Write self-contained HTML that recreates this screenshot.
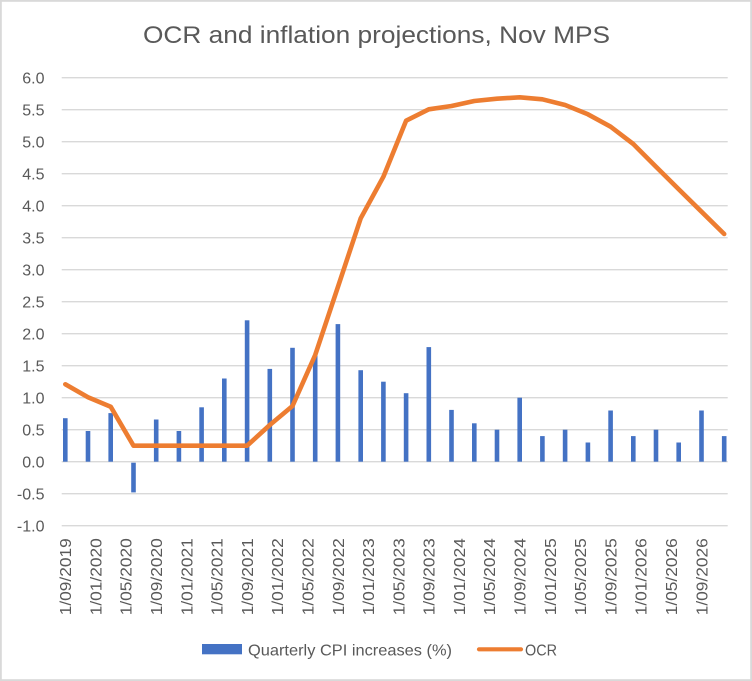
<!DOCTYPE html>
<html><head><meta charset="utf-8"><style>
html,body{margin:0;padding:0;background:#fff;}
svg{display:block;}
text{font-family:"Liberation Sans",Arial,sans-serif;fill:#595959;}
</style></head><body>
<svg width="752" height="681" viewBox="0 0 752 681" xmlns="http://www.w3.org/2000/svg">
<rect x="0" y="0" width="752" height="681" fill="#fff"/>
<rect x="0.9" y="0.9" width="750.2" height="679.2" fill="none" stroke="#D9D9D9" stroke-width="1.8"/>
<text x="376.5" y="43" font-size="24" text-anchor="middle" textLength="467" lengthAdjust="spacingAndGlyphs">OCR and inflation projections, Nov MPS</text>
<g stroke="#D9D9D9" stroke-width="1.4">
<line x1="61.7" x2="727.7" y1="77.7" y2="77.7"/>
<line x1="61.7" x2="727.7" y1="109.7" y2="109.7"/>
<line x1="61.7" x2="727.7" y1="141.7" y2="141.7"/>
<line x1="61.7" x2="727.7" y1="173.7" y2="173.7"/>
<line x1="61.7" x2="727.7" y1="205.7" y2="205.7"/>
<line x1="61.7" x2="727.7" y1="237.7" y2="237.7"/>
<line x1="61.7" x2="727.7" y1="269.7" y2="269.7"/>
<line x1="61.7" x2="727.7" y1="301.7" y2="301.7"/>
<line x1="61.7" x2="727.7" y1="333.7" y2="333.7"/>
<line x1="61.7" x2="727.7" y1="365.7" y2="365.7"/>
<line x1="61.7" x2="727.7" y1="397.7" y2="397.7"/>
<line x1="61.7" x2="727.7" y1="429.7" y2="429.7"/>
<line x1="61.7" x2="727.7" y1="461.7" y2="461.7"/>
<line x1="61.7" x2="727.7" y1="493.7" y2="493.7"/>
<line x1="61.7" x2="727.7" y1="525.7" y2="525.7"/>
</g>
<g font-size="16" text-anchor="end">
<text x="44.5" y="83.5">6.0</text>
<text x="44.5" y="115.5">5.5</text>
<text x="44.5" y="147.5">5.0</text>
<text x="44.5" y="179.5">4.5</text>
<text x="44.5" y="211.5">4.0</text>
<text x="44.5" y="243.5">3.5</text>
<text x="44.5" y="275.5">3.0</text>
<text x="44.5" y="307.5">2.5</text>
<text x="44.5" y="339.5">2.0</text>
<text x="44.5" y="371.5">1.5</text>
<text x="44.5" y="403.5">1.0</text>
<text x="44.5" y="435.5">0.5</text>
<text x="44.5" y="467.5">0.0</text>
<text x="44.5" y="499.5">-0.5</text>
<text x="44.5" y="531.5">-1.0</text>
</g>
<g fill="#4472C4">
<rect x="63.0" y="418.2" width="4.6" height="43.5"/>
<rect x="85.7" y="431.0" width="4.6" height="30.7"/>
<rect x="108.4" y="413.1" width="4.6" height="48.6"/>
<rect x="131.2" y="462.7" width="4.6" height="29.7"/>
<rect x="153.9" y="419.5" width="4.6" height="42.2"/>
<rect x="176.6" y="431.0" width="4.6" height="30.7"/>
<rect x="199.3" y="407.3" width="4.6" height="54.4"/>
<rect x="222.0" y="378.5" width="4.6" height="83.2"/>
<rect x="244.8" y="320.3" width="4.6" height="141.4"/>
<rect x="267.5" y="368.9" width="4.6" height="92.8"/>
<rect x="290.2" y="347.8" width="4.6" height="113.9"/>
<rect x="312.9" y="354.8" width="4.6" height="106.9"/>
<rect x="335.6" y="324.1" width="4.6" height="137.6"/>
<rect x="358.4" y="370.2" width="4.6" height="91.5"/>
<rect x="381.1" y="381.7" width="4.6" height="80.0"/>
<rect x="403.8" y="393.2" width="4.6" height="68.5"/>
<rect x="426.5" y="347.1" width="4.6" height="114.6"/>
<rect x="449.2" y="409.9" width="4.6" height="51.8"/>
<rect x="472.0" y="423.3" width="4.6" height="38.4"/>
<rect x="494.7" y="429.7" width="4.6" height="32.0"/>
<rect x="517.4" y="397.7" width="4.6" height="64.0"/>
<rect x="540.1" y="436.1" width="4.6" height="25.6"/>
<rect x="562.8" y="429.7" width="4.6" height="32.0"/>
<rect x="585.6" y="442.5" width="4.6" height="19.2"/>
<rect x="608.3" y="410.5" width="4.6" height="51.2"/>
<rect x="631.0" y="436.1" width="4.6" height="25.6"/>
<rect x="653.7" y="429.7" width="4.6" height="32.0"/>
<rect x="676.4" y="442.5" width="4.6" height="19.2"/>
<rect x="699.2" y="410.5" width="4.6" height="51.2"/>
<rect x="721.9" y="436.1" width="4.6" height="25.6"/>
</g>
<polyline fill="none" stroke="#ED7D31" stroke-width="4.6" stroke-linejoin="round" stroke-linecap="round"
points="65.3,384.3 88.0,397.3 110.7,406.7 133.5,445.7 156.2,445.7 178.9,445.7 201.6,445.7 224.3,445.7 247.1,445.7 269.8,425 292.5,406 315.2,355 337.9,287 360.7,218.3 383.4,176.7 406.1,120.7 428.8,109.3 451.5,106 474.3,101 497.0,98.7 519.7,97.3 542.4,99.3 565.1,105 587.9,114.3 610.6,126.7 633.3,144 656.0,166.7 678.7,189.3 701.5,211.7 724.2,234"/>
<g font-size="16" text-anchor="end">
<text transform="translate(71.1,538.3) rotate(-90)" textLength="77" lengthAdjust="spacingAndGlyphs">1/09/2019</text>
<text transform="translate(101.4,538.3) rotate(-90)" textLength="77" lengthAdjust="spacingAndGlyphs">1/01/2020</text>
<text transform="translate(131.7,538.3) rotate(-90)" textLength="77" lengthAdjust="spacingAndGlyphs">1/05/2020</text>
<text transform="translate(162.0,538.3) rotate(-90)" textLength="77" lengthAdjust="spacingAndGlyphs">1/09/2020</text>
<text transform="translate(192.3,538.3) rotate(-90)" textLength="77" lengthAdjust="spacingAndGlyphs">1/01/2021</text>
<text transform="translate(222.6,538.3) rotate(-90)" textLength="77" lengthAdjust="spacingAndGlyphs">1/05/2021</text>
<text transform="translate(252.9,538.3) rotate(-90)" textLength="77" lengthAdjust="spacingAndGlyphs">1/09/2021</text>
<text transform="translate(283.2,538.3) rotate(-90)" textLength="77" lengthAdjust="spacingAndGlyphs">1/01/2022</text>
<text transform="translate(313.5,538.3) rotate(-90)" textLength="77" lengthAdjust="spacingAndGlyphs">1/05/2022</text>
<text transform="translate(343.8,538.3) rotate(-90)" textLength="77" lengthAdjust="spacingAndGlyphs">1/09/2022</text>
<text transform="translate(374.1,538.3) rotate(-90)" textLength="77" lengthAdjust="spacingAndGlyphs">1/01/2023</text>
<text transform="translate(404.4,538.3) rotate(-90)" textLength="77" lengthAdjust="spacingAndGlyphs">1/05/2023</text>
<text transform="translate(434.7,538.3) rotate(-90)" textLength="77" lengthAdjust="spacingAndGlyphs">1/09/2023</text>
<text transform="translate(465.0,538.3) rotate(-90)" textLength="77" lengthAdjust="spacingAndGlyphs">1/01/2024</text>
<text transform="translate(495.2,538.3) rotate(-90)" textLength="77" lengthAdjust="spacingAndGlyphs">1/05/2024</text>
<text transform="translate(525.5,538.3) rotate(-90)" textLength="77" lengthAdjust="spacingAndGlyphs">1/09/2024</text>
<text transform="translate(555.8,538.3) rotate(-90)" textLength="77" lengthAdjust="spacingAndGlyphs">1/01/2025</text>
<text transform="translate(586.1,538.3) rotate(-90)" textLength="77" lengthAdjust="spacingAndGlyphs">1/05/2025</text>
<text transform="translate(616.4,538.3) rotate(-90)" textLength="77" lengthAdjust="spacingAndGlyphs">1/09/2025</text>
<text transform="translate(646.7,538.3) rotate(-90)" textLength="77" lengthAdjust="spacingAndGlyphs">1/01/2026</text>
<text transform="translate(677.0,538.3) rotate(-90)" textLength="77" lengthAdjust="spacingAndGlyphs">1/05/2026</text>
<text transform="translate(707.3,538.3) rotate(-90)" textLength="77" lengthAdjust="spacingAndGlyphs">1/09/2026</text>
</g>
<rect x="202" y="644" width="40" height="10.3" fill="#4472C4"/>
<text x="248" y="655.5" font-size="16" textLength="204" lengthAdjust="spacingAndGlyphs">Quarterly CPI increases (%)</text>
<line x1="479" y1="649.3" x2="521" y2="649.3" stroke="#ED7D31" stroke-width="4.2" stroke-linecap="round"/>
<text x="525" y="655.5" font-size="16" textLength="32" lengthAdjust="spacingAndGlyphs">OCR</text>
</svg>
</body></html>
